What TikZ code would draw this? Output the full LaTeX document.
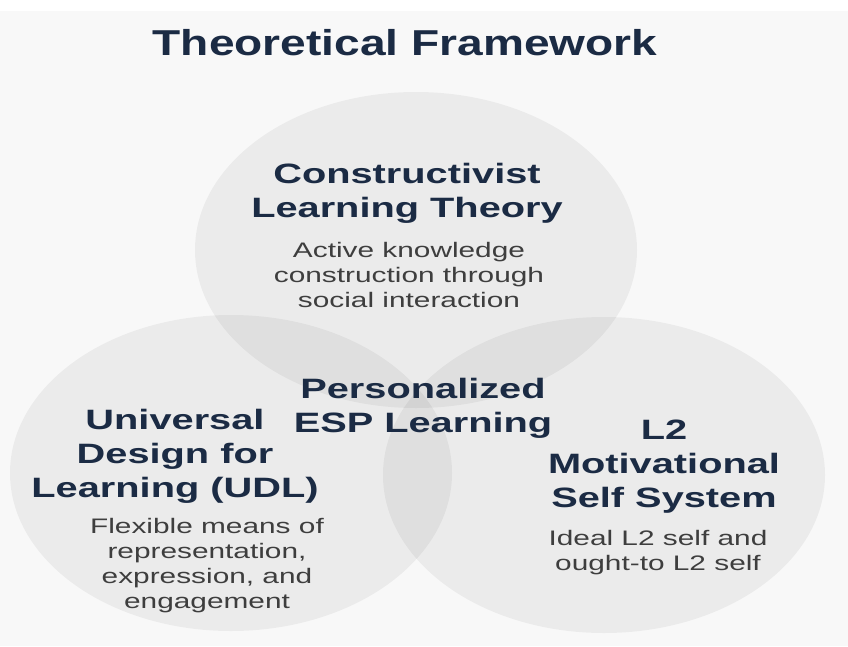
\documentclass[tikz,border=0pt]{standalone}
\usepackage{fontspec}
\setmainfont{Liberation Sans}
\newfontfamily\widesans[FakeStretch=1.42]{Liberation Sans}
\newfontfamily\titlesans[FakeStretch=1.28]{Liberation Sans}
\definecolor{navy}{HTML}{1B2B44}
\definecolor{blurbgray}{HTML}{3E3E3E}
\definecolor{paper}{HTML}{F8F8F8}

\begin{document}
\begin{tikzpicture}[x=0.75pt,y=-0.75pt,
    bubble/.style={fill=black,fill opacity=0.05},
    headline/.style={text=navy,font=\widesans\bfseries\fontsize{21}{25.5}\selectfont,align=center,inner sep=0pt,anchor=base},
    blurb/.style={text=blurbgray,font=\widesans\fontsize{15.75}{18.75}\selectfont,align=center,inner sep=0pt,anchor=base}]
    \useasboundingbox (0,0) rectangle (848,646);
    \fill[white] (0,0) rectangle (848,646);
    \fill[paper] (0,11) rectangle (848,646);
    % three overlapping theory bubbles
    \fill[bubble] (416,250) ellipse [x radius=221, y radius=158];
    \fill[bubble] (231,473) ellipse [x radius=221, y radius=158];
    \fill[bubble] (604,475) ellipse [x radius=221, y radius=158];
    % base of a multi-line node = baseline of its last line
    \node[text=navy,font=\titlesans\bfseries\fontsize{27}{32}\selectfont,inner sep=0pt,anchor=base] (title) at (405,55) {Theoretical Framework};
    \node[headline] (clt) at (407,217) {Constructivist\\Learning Theory};
    \node[blurb] (cltnote) at (409,307) {Active knowledge\\construction through\\social interaction};
    \node[headline] (udl) at (175,497) {Universal\\Design for\\Learning (UDL)};
    \node[blurb] (udlnote) at (207,608) {Flexible means of\\representation,\\expression, and\\engagement};
    \node[headline] (lms) at (664,507) {L2\\Motivational\\Self System};
    \node[blurb] (lmsnote) at (658,570) {Ideal L2 self and\\ought-to L2 self};
    \node[headline] (esp) at (423,432) {Personalized\\ESP Learning};
\end{tikzpicture}
\end{document}
